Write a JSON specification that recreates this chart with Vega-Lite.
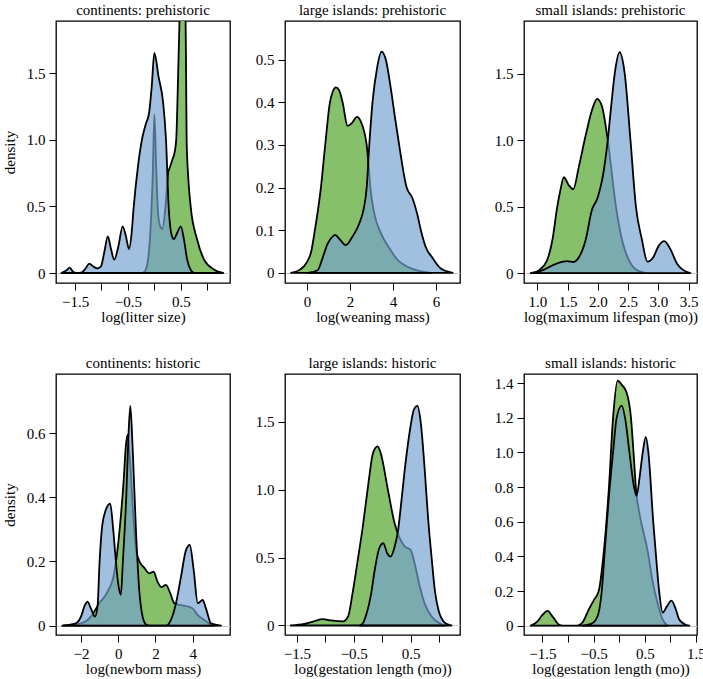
{
"$schema": "https://vega.github.io/schema/vega-lite/v6.json",
"padding": {"left": 1, "top": 2, "right": 0, "bottom": 0},
"data": {"values": [
{"p":1,"s":"g","x":-0.22,"y":0},{"p":1,"s":"g","x":-0.17,"y":0.02},{"p":1,"s":"g","x":-0.12,"y":0.1},{"p":1,"s":"g","x":-0.07,"y":0.35},{"p":1,"s":"g","x":-0.03,"y":0.75},{"p":1,"s":"g","x":0,"y":1.19},{"p":1,"s":"g","x":0.03,"y":0.85},{"p":1,"s":"g","x":0.07,"y":0.45},{"p":1,"s":"g","x":0.11,"y":0.35},{"p":1,"s":"g","x":0.15,"y":0.33},{"p":1,"s":"g","x":0.21,"y":0.5},{"p":1,"s":"g","x":0.26,"y":0.75},{"p":1,"s":"g","x":0.3,"y":0.8},{"p":1,"s":"g","x":0.34,"y":0.85},{"p":1,"s":"g","x":0.38,"y":0.9},{"p":1,"s":"g","x":0.413,"y":1.0},{"p":1,"s":"g","x":0.45,"y":1.5},{"p":1,"s":"g","x":0.476,"y":1.9},{"p":1,"s":"g","x":0.535,"y":2.4},{"p":1,"s":"g","x":0.59,"y":1.9},{"p":1,"s":"g","x":0.6,"y":1.5},{"p":1,"s":"g","x":0.61,"y":1.0},{"p":1,"s":"g","x":0.64,"y":0.72},{"p":1,"s":"g","x":0.686,"y":0.5},{"p":1,"s":"g","x":0.81,"y":0.25},{"p":1,"s":"g","x":0.94,"y":0.1},{"p":1,"s":"g","x":1.13,"y":0.025},{"p":1,"s":"g","x":1.3,"y":0},
{"p":1,"s":"b","x":-1.76,"y":0},{"p":1,"s":"b","x":-1.66,"y":0.02},{"p":1,"s":"b","x":-1.6,"y":0.04},{"p":1,"s":"b","x":-1.54,"y":0.01},{"p":1,"s":"b","x":-1.47,"y":0},{"p":1,"s":"b","x":-1.37,"y":0.005},{"p":1,"s":"b","x":-1.3,"y":0.035},{"p":1,"s":"b","x":-1.23,"y":0.07},{"p":1,"s":"b","x":-1.16,"y":0.05},{"p":1,"s":"b","x":-1.08,"y":0.035},{"p":1,"s":"b","x":-1.01,"y":0.05},{"p":1,"s":"b","x":-0.95,"y":0.15},{"p":1,"s":"b","x":-0.88,"y":0.275},{"p":1,"s":"b","x":-0.82,"y":0.18},{"p":1,"s":"b","x":-0.76,"y":0.1},{"p":1,"s":"b","x":-0.68,"y":0.2},{"p":1,"s":"b","x":-0.6,"y":0.35},{"p":1,"s":"b","x":-0.54,"y":0.28},{"p":1,"s":"b","x":-0.48,"y":0.18},{"p":1,"s":"b","x":-0.43,"y":0.3},{"p":1,"s":"b","x":-0.39,"y":0.5},{"p":1,"s":"b","x":-0.31,"y":0.8},{"p":1,"s":"b","x":-0.235,"y":1.0},{"p":1,"s":"b","x":-0.16,"y":1.12},{"p":1,"s":"b","x":-0.1,"y":1.2},{"p":1,"s":"b","x":-0.05,"y":1.4},{"p":1,"s":"b","x":0,"y":1.65},{"p":1,"s":"b","x":0.08,"y":1.47},{"p":1,"s":"b","x":0.165,"y":1.28},{"p":1,"s":"b","x":0.22,"y":1.0},{"p":1,"s":"b","x":0.27,"y":0.5},{"p":1,"s":"b","x":0.33,"y":0.28},{"p":1,"s":"b","x":0.37,"y":0.255},{"p":1,"s":"b","x":0.43,"y":0.3},{"p":1,"s":"b","x":0.5,"y":0.35},{"p":1,"s":"b","x":0.56,"y":0.25},{"p":1,"s":"b","x":0.62,"y":0.1},{"p":1,"s":"b","x":0.69,"y":0.02},{"p":1,"s":"b","x":0.75,"y":0},
{"p":2,"s":"g","x":-0.74,"y":0},{"p":2,"s":"g","x":-0.3,"y":0.008},{"p":2,"s":"g","x":0,"y":0.025},{"p":2,"s":"g","x":0.2,"y":0.05},{"p":2,"s":"g","x":0.37,"y":0.1},{"p":2,"s":"g","x":0.65,"y":0.2},{"p":2,"s":"g","x":0.85,"y":0.3},{"p":2,"s":"g","x":1.07,"y":0.4},{"p":2,"s":"g","x":1.2,"y":0.425},{"p":2,"s":"g","x":1.35,"y":0.435},{"p":2,"s":"g","x":1.5,"y":0.428},{"p":2,"s":"g","x":1.66,"y":0.4},{"p":2,"s":"g","x":1.89,"y":0.345},{"p":2,"s":"g","x":2.1,"y":0.352},{"p":2,"s":"g","x":2.33,"y":0.366},{"p":2,"s":"g","x":2.51,"y":0.355},{"p":2,"s":"g","x":2.67,"y":0.33},{"p":2,"s":"g","x":2.78,"y":0.3},{"p":2,"s":"g","x":2.87,"y":0.25},{"p":2,"s":"g","x":2.95,"y":0.2},{"p":2,"s":"g","x":3.13,"y":0.14},{"p":2,"s":"g","x":3.44,"y":0.093},{"p":2,"s":"g","x":3.83,"y":0.058},{"p":2,"s":"g","x":4.22,"y":0.03},{"p":2,"s":"g","x":4.68,"y":0.014},{"p":2,"s":"g","x":5.46,"y":0.002},{"p":2,"s":"g","x":5.77,"y":0},
{"p":2,"s":"b","x":0.03,"y":0},{"p":2,"s":"b","x":0.5,"y":0.006},{"p":2,"s":"b","x":0.73,"y":0.035},{"p":2,"s":"b","x":0.96,"y":0.068},{"p":2,"s":"b","x":1.19,"y":0.085},{"p":2,"s":"b","x":1.32,"y":0.089},{"p":2,"s":"b","x":1.5,"y":0.08},{"p":2,"s":"b","x":1.81,"y":0.065},{"p":2,"s":"b","x":2.12,"y":0.085},{"p":2,"s":"b","x":2.43,"y":0.115},{"p":2,"s":"b","x":2.64,"y":0.15},{"p":2,"s":"b","x":2.78,"y":0.2},{"p":2,"s":"b","x":2.9,"y":0.3},{"p":2,"s":"b","x":3.05,"y":0.4},{"p":2,"s":"b","x":3.26,"y":0.48},{"p":2,"s":"b","x":3.47,"y":0.519},{"p":2,"s":"b","x":3.67,"y":0.5},{"p":2,"s":"b","x":3.91,"y":0.43},{"p":2,"s":"b","x":4.11,"y":0.36},{"p":2,"s":"b","x":4.29,"y":0.3},{"p":2,"s":"b","x":4.64,"y":0.2},{"p":2,"s":"b","x":4.91,"y":0.175},{"p":2,"s":"b","x":5.12,"y":0.14},{"p":2,"s":"b","x":5.3,"y":0.1},{"p":2,"s":"b","x":5.53,"y":0.06},{"p":2,"s":"b","x":5.84,"y":0.035},{"p":2,"s":"b","x":6.23,"y":0.01},{"p":2,"s":"b","x":6.78,"y":0},
{"p":3,"s":"g","x":0.918,"y":0},{"p":3,"s":"g","x":1.027,"y":0.02},{"p":3,"s":"g","x":1.165,"y":0.1},{"p":3,"s":"g","x":1.25,"y":0.25},{"p":3,"s":"g","x":1.33,"y":0.5},{"p":3,"s":"g","x":1.38,"y":0.62},{"p":3,"s":"g","x":1.44,"y":0.72},{"p":3,"s":"g","x":1.52,"y":0.66},{"p":3,"s":"g","x":1.593,"y":0.63},{"p":3,"s":"g","x":1.687,"y":0.8},{"p":3,"s":"g","x":1.797,"y":1.03},{"p":3,"s":"g","x":1.907,"y":1.23},{"p":3,"s":"g","x":1.989,"y":1.31},{"p":3,"s":"g","x":2.071,"y":1.25},{"p":3,"s":"g","x":2.165,"y":1.0},{"p":3,"s":"g","x":2.3,"y":0.5},{"p":3,"s":"g","x":2.4,"y":0.25},{"p":3,"s":"g","x":2.51,"y":0.1},{"p":3,"s":"g","x":2.62,"y":0.03},{"p":3,"s":"g","x":2.79,"y":0},
{"p":3,"s":"b","x":0.89,"y":0},{"p":3,"s":"b","x":1.08,"y":0.02},{"p":3,"s":"b","x":1.25,"y":0.058},{"p":3,"s":"b","x":1.41,"y":0.083},{"p":3,"s":"b","x":1.49,"y":0.09},{"p":3,"s":"b","x":1.6,"y":0.083},{"p":3,"s":"b","x":1.69,"y":0.12},{"p":3,"s":"b","x":1.8,"y":0.25},{"p":3,"s":"b","x":1.9,"y":0.47},{"p":3,"s":"b","x":2.0,"y":0.57},{"p":3,"s":"b","x":2.08,"y":0.72},{"p":3,"s":"b","x":2.165,"y":1.0},{"p":3,"s":"b","x":2.22,"y":1.25},{"p":3,"s":"b","x":2.28,"y":1.5},{"p":3,"s":"b","x":2.36,"y":1.66},{"p":3,"s":"b","x":2.445,"y":1.5},{"p":3,"s":"b","x":2.54,"y":1.0},{"p":3,"s":"b","x":2.63,"y":0.5},{"p":3,"s":"b","x":2.73,"y":0.25},{"p":3,"s":"b","x":2.82,"y":0.085},{"p":3,"s":"b","x":2.92,"y":0.12},{"p":3,"s":"b","x":3.0,"y":0.2},{"p":3,"s":"b","x":3.1,"y":0.24},{"p":3,"s":"b","x":3.2,"y":0.18},{"p":3,"s":"b","x":3.31,"y":0.07},{"p":3,"s":"b","x":3.42,"y":0.02},{"p":3,"s":"b","x":3.53,"y":0},
{"p":4,"s":"g","x":-2.99,"y":0},{"p":4,"s":"g","x":-2.0,"y":0.007},{"p":4,"s":"g","x":-1.47,"y":0.028},{"p":4,"s":"g","x":-1.02,"y":0.07},{"p":4,"s":"g","x":-0.57,"y":0.106},{"p":4,"s":"g","x":-0.22,"y":0.163},{"p":4,"s":"g","x":-0.04,"y":0.236},{"p":4,"s":"g","x":0.14,"y":0.34},{"p":4,"s":"g","x":0.29,"y":0.45},{"p":4,"s":"g","x":0.41,"y":0.56},{"p":4,"s":"g","x":0.5,"y":0.595},{"p":4,"s":"g","x":0.65,"y":0.5},{"p":4,"s":"g","x":0.8,"y":0.35},{"p":4,"s":"g","x":0.95,"y":0.24},{"p":4,"s":"g","x":1.1,"y":0.205},{"p":4,"s":"g","x":1.4,"y":0.18},{"p":4,"s":"g","x":1.67,"y":0.163},{"p":4,"s":"g","x":1.9,"y":0.168},{"p":4,"s":"g","x":2.11,"y":0.137},{"p":4,"s":"g","x":2.33,"y":0.12},{"p":4,"s":"g","x":2.56,"y":0.127},{"p":4,"s":"g","x":2.8,"y":0.1},{"p":4,"s":"g","x":3.01,"y":0.07},{"p":4,"s":"g","x":3.37,"y":0.064},{"p":4,"s":"g","x":3.73,"y":0.06},{"p":4,"s":"g","x":4.0,"y":0.054},{"p":4,"s":"g","x":4.27,"y":0.033},{"p":4,"s":"g","x":4.62,"y":0.018},{"p":4,"s":"g","x":4.89,"y":0.007},{"p":4,"s":"g","x":5.16,"y":0},
{"p":4,"s":"b","x":-2.99,"y":0},{"p":4,"s":"b","x":-2.28,"y":0.007},{"p":4,"s":"b","x":-2.0,"y":0.028},{"p":4,"s":"b","x":-1.79,"y":0.064},{"p":4,"s":"b","x":-1.65,"y":0.075},{"p":4,"s":"b","x":-1.47,"y":0.054},{"p":4,"s":"b","x":-1.25,"y":0.028},{"p":4,"s":"b","x":-1.11,"y":0.06},{"p":4,"s":"b","x":-1.0,"y":0.2},{"p":4,"s":"b","x":-0.88,"y":0.3},{"p":4,"s":"b","x":-0.7,"y":0.355},{"p":4,"s":"b","x":-0.43,"y":0.38},{"p":4,"s":"b","x":-0.27,"y":0.3},{"p":4,"s":"b","x":-0.125,"y":0.2},{"p":4,"s":"b","x":0.0,"y":0.13},{"p":4,"s":"b","x":0.14,"y":0.096},{"p":4,"s":"b","x":0.25,"y":0.2},{"p":4,"s":"b","x":0.43,"y":0.4},{"p":4,"s":"b","x":0.556,"y":0.6},{"p":4,"s":"b","x":0.65,"y":0.685},{"p":4,"s":"b","x":0.77,"y":0.56},{"p":4,"s":"b","x":0.95,"y":0.3},{"p":4,"s":"b","x":1.13,"y":0.11},{"p":4,"s":"b","x":1.31,"y":0.028},{"p":4,"s":"b","x":1.49,"y":0.004},{"p":4,"s":"b","x":1.67,"y":0},{"p":4,"s":"b","x":2.56,"y":0},{"p":4,"s":"b","x":2.83,"y":0.018},{"p":4,"s":"b","x":3.1,"y":0.07},{"p":4,"s":"b","x":3.37,"y":0.153},{"p":4,"s":"b","x":3.64,"y":0.236},{"p":4,"s":"b","x":3.84,"y":0.252},{"p":4,"s":"b","x":4.05,"y":0.174},{"p":4,"s":"b","x":4.27,"y":0.07},{"p":4,"s":"b","x":4.53,"y":0.08},{"p":4,"s":"b","x":4.71,"y":0.054},{"p":4,"s":"b","x":4.98,"y":0.007},{"p":4,"s":"b","x":5.52,"y":0},
{"p":5,"s":"g","x":-1.61,"y":0},{"p":5,"s":"g","x":-1.37,"y":0.012},{"p":5,"s":"g","x":-1.2,"y":0.03},{"p":5,"s":"g","x":-1.05,"y":0.047},{"p":5,"s":"g","x":-0.9,"y":0.037},{"p":5,"s":"g","x":-0.69,"y":0.03},{"p":5,"s":"g","x":-0.6,"y":0.066},{"p":5,"s":"g","x":-0.52,"y":0.24},{"p":5,"s":"g","x":-0.43,"y":0.48},{"p":5,"s":"g","x":-0.34,"y":0.73},{"p":5,"s":"g","x":-0.25,"y":1.02},{"p":5,"s":"g","x":-0.16,"y":1.27},{"p":5,"s":"g","x":-0.08,"y":1.318},{"p":5,"s":"g","x":-0.02,"y":1.26},{"p":5,"s":"g","x":0.1,"y":1.0},{"p":5,"s":"g","x":0.22,"y":0.75},{"p":5,"s":"g","x":0.31,"y":0.64},{"p":5,"s":"g","x":0.4,"y":0.58},{"p":5,"s":"g","x":0.5,"y":0.556},{"p":5,"s":"g","x":0.57,"y":0.46},{"p":5,"s":"g","x":0.66,"y":0.29},{"p":5,"s":"g","x":0.75,"y":0.16},{"p":5,"s":"g","x":0.87,"y":0.066},{"p":5,"s":"g","x":0.99,"y":0.022},{"p":5,"s":"g","x":1.1,"y":0},
{"p":5,"s":"b","x":-0.4,"y":0},{"p":5,"s":"b","x":-0.34,"y":0.017},{"p":5,"s":"b","x":-0.28,"y":0.08},{"p":5,"s":"b","x":-0.2,"y":0.22},{"p":5,"s":"b","x":-0.13,"y":0.41},{"p":5,"s":"b","x":-0.05,"y":0.57},{"p":5,"s":"b","x":0.02,"y":0.605},{"p":5,"s":"b","x":0.09,"y":0.53},{"p":5,"s":"b","x":0.15,"y":0.507},{"p":5,"s":"b","x":0.22,"y":0.58},{"p":5,"s":"b","x":0.28,"y":0.7},{"p":5,"s":"b","x":0.34,"y":0.92},{"p":5,"s":"b","x":0.41,"y":1.19},{"p":5,"s":"b","x":0.49,"y":1.44},{"p":5,"s":"b","x":0.56,"y":1.59},{"p":5,"s":"b","x":0.62,"y":1.615},{"p":5,"s":"b","x":0.68,"y":1.49},{"p":5,"s":"b","x":0.75,"y":1.14},{"p":5,"s":"b","x":0.81,"y":0.78},{"p":5,"s":"b","x":0.87,"y":0.5},{"p":5,"s":"b","x":0.93,"y":0.25},{"p":5,"s":"b","x":1.0,"y":0.1},{"p":5,"s":"b","x":1.07,"y":0.035},{"p":5,"s":"b","x":1.13,"y":0.012},{"p":5,"s":"b","x":1.22,"y":0},
{"p":6,"s":"g","x":-1.73,"y":0},{"p":6,"s":"g","x":-1.6,"y":0.023},{"p":6,"s":"g","x":-1.5,"y":0.062},{"p":6,"s":"g","x":-1.4,"y":0.085},{"p":6,"s":"g","x":-1.3,"y":0.052},{"p":6,"s":"g","x":-1.17,"y":0.004},{"p":6,"s":"g","x":-1.1,"y":0},{"p":6,"s":"g","x":-0.82,"y":0},{"p":6,"s":"g","x":-0.72,"y":0.017},{"p":6,"s":"g","x":-0.6,"y":0.09},{"p":6,"s":"g","x":-0.49,"y":0.15},{"p":6,"s":"g","x":-0.4,"y":0.2},{"p":6,"s":"g","x":-0.31,"y":0.4},{"p":6,"s":"g","x":-0.2,"y":0.8},{"p":6,"s":"g","x":-0.12,"y":1.2},{"p":6,"s":"g","x":-0.03,"y":1.415},{"p":6,"s":"g","x":0.05,"y":1.39},{"p":6,"s":"g","x":0.14,"y":1.35},{"p":6,"s":"g","x":0.23,"y":1.2},{"p":6,"s":"g","x":0.28,"y":1.0},{"p":6,"s":"g","x":0.33,"y":0.78},{"p":6,"s":"g","x":0.4,"y":0.64},{"p":6,"s":"g","x":0.49,"y":0.52},{"p":6,"s":"g","x":0.55,"y":0.44},{"p":6,"s":"g","x":0.65,"y":0.26},{"p":6,"s":"g","x":0.75,"y":0.13},{"p":6,"s":"g","x":0.85,"y":0.035},{"p":6,"s":"g","x":0.95,"y":0},
{"p":6,"s":"b","x":-0.72,"y":0},{"p":6,"s":"b","x":-0.55,"y":0.01},{"p":6,"s":"b","x":-0.46,"y":0.033},{"p":6,"s":"b","x":-0.39,"y":0.09},{"p":6,"s":"b","x":-0.34,"y":0.2},{"p":6,"s":"b","x":-0.29,"y":0.4},{"p":6,"s":"b","x":-0.2,"y":0.75},{"p":6,"s":"b","x":-0.12,"y":1.0},{"p":6,"s":"b","x":-0.05,"y":1.2},{"p":6,"s":"b","x":0.05,"y":1.27},{"p":6,"s":"b","x":0.12,"y":1.19},{"p":6,"s":"b","x":0.2,"y":1.0},{"p":6,"s":"b","x":0.29,"y":0.8},{"p":6,"s":"b","x":0.34,"y":0.75},{"p":6,"s":"b","x":0.4,"y":0.86},{"p":6,"s":"b","x":0.46,"y":1.0},{"p":6,"s":"b","x":0.52,"y":1.09},{"p":6,"s":"b","x":0.57,"y":1.0},{"p":6,"s":"b","x":0.665,"y":0.6},{"p":6,"s":"b","x":0.72,"y":0.4},{"p":6,"s":"b","x":0.78,"y":0.2},{"p":6,"s":"b","x":0.85,"y":0.075},{"p":6,"s":"b","x":0.93,"y":0.11},{"p":6,"s":"b","x":1.02,"y":0.144},{"p":6,"s":"b","x":1.1,"y":0.1},{"p":6,"s":"b","x":1.17,"y":0.037},{"p":6,"s":"b","x":1.27,"y":0.01},{"p":6,"s":"b","x":1.37,"y":0}
]},
"columns": 3,
"align": "each",
"bounds": "full",
"spacing": {"row": 29, "column": 21},
"concat": [
{"width": 174, "height": 262, "title": "continents: prehistoric",
 "transform": [{"filter": "datum.p == 1"}],
 "encoding": {
  "x": {"field": "x", "type": "quantitative", "title": "log(litter size)", "scale": {"domain": [-1.86, 1.43], "nice": false, "zero": false}, "axis": {"values": [-1.5, -1, -0.5, 0, 0.5, 1], "labelExpr": "abs(datum.value*2) % 2 == 1 ? format(datum.value, '.1f') : ''"}},
  "y": {"field": "y", "type": "quantitative", "title": "density", "scale": {"domain": [-0.075, 1.89], "nice": false, "zero": false}, "axis": {"values": [0, 0.5, 1, 1.5], "minExtent": 32, "labelExpr": "datum.value == 0 ? '0' : format(datum.value, '.1f')", "grid": true, "gridColor": "#c8c8c8", "gridOpacity": {"condition": {"test": "datum.value === 0", "value": 1}, "value": 0}}}
 },
 "layer": [
  {"transform": [{"filter": "datum.s == 'g'"}], "mark": {"type": "area", "interpolate": "monotone", "clip": true, "fill": "#87c06b", "fillOpacity": 1, "stroke": "#000", "strokeWidth": 1.8, "strokeJoin": "round"}},
  {"transform": [{"filter": "datum.s == 'b'"}], "mark": {"type": "area", "interpolate": "monotone", "clip": true, "fill": "#75a0cf", "fillOpacity": 0.68, "stroke": "#000", "strokeWidth": 1.8, "strokeJoin": "round"}}
 ]},
{"width": 175, "height": 262, "title": "large islands: prehistoric",
 "transform": [{"filter": "datum.p == 2"}],
 "encoding": {
  "x": {"field": "x", "type": "quantitative", "title": "log(weaning mass)", "scale": {"domain": [-1.02, 7.12], "nice": false, "zero": false}, "axis": {"values": [0, 2, 4, 6], "format": "d"}},
  "y": {"field": "y", "type": "quantitative", "title": null, "scale": {"domain": [-0.024, 0.591], "nice": false, "zero": false}, "axis": {"values": [0, 0.1, 0.2, 0.3, 0.4, 0.5], "minExtent": 32, "labelExpr": "datum.value == 0 ? '0' : format(datum.value, '.1f')", "grid": true, "gridColor": "#c8c8c8", "gridOpacity": {"condition": {"test": "datum.value === 0", "value": 1}, "value": 0}}}
 },
 "layer": [
  {"transform": [{"filter": "datum.s == 'g'"}], "mark": {"type": "area", "interpolate": "monotone", "clip": true, "fill": "#87c06b", "fillOpacity": 1, "stroke": "#000", "strokeWidth": 1.8, "strokeJoin": "round"}},
  {"transform": [{"filter": "datum.s == 'b'"}], "mark": {"type": "area", "interpolate": "monotone", "clip": true, "fill": "#75a0cf", "fillOpacity": 0.68, "stroke": "#000", "strokeWidth": 1.8, "strokeJoin": "round"}}
 ]},
{"width": 173, "height": 262, "title": "small islands: prehistoric",
 "transform": [{"filter": "datum.p == 3"}],
 "encoding": {
  "x": {"field": "x", "type": "quantitative", "title": "log(maximum lifespan (mo))", "scale": {"domain": [0.78, 3.64], "nice": false, "zero": false}, "axis": {"values": [1, 1.5, 2, 2.5, 3, 3.5], "format": ".1f"}},
  "y": {"field": "y", "type": "quantitative", "title": null, "scale": {"domain": [-0.075, 1.895], "nice": false, "zero": false}, "axis": {"values": [0, 0.5, 1, 1.5], "minExtent": 40.5, "labelExpr": "datum.value == 0 ? '0' : format(datum.value, '.1f')", "grid": true, "gridColor": "#c8c8c8", "gridOpacity": {"condition": {"test": "datum.value === 0", "value": 1}, "value": 0}}}
 },
 "layer": [
  {"transform": [{"filter": "datum.s == 'g'"}], "mark": {"type": "area", "interpolate": "monotone", "clip": true, "fill": "#87c06b", "fillOpacity": 1, "stroke": "#000", "strokeWidth": 1.8, "strokeJoin": "round"}},
  {"transform": [{"filter": "datum.s == 'b'"}], "mark": {"type": "area", "interpolate": "monotone", "clip": true, "fill": "#75a0cf", "fillOpacity": 0.68, "stroke": "#000", "strokeWidth": 1.8, "strokeJoin": "round"}}
 ]},
{"width": 174, "height": 261, "title": "continents: historic",
 "transform": [{"filter": "datum.p == 4"}],
 "encoding": {
  "x": {"field": "x", "type": "quantitative", "title": "log(newborn mass)", "scale": {"domain": [-3.34, 6.0], "nice": false, "zero": false}, "axis": {"values": [-2, 0, 2, 4], "format": "d"}},
  "y": {"field": "y", "type": "quantitative", "title": "density", "scale": {"domain": [-0.029, 0.784], "nice": false, "zero": false}, "axis": {"values": [0, 0.2, 0.4, 0.6], "minExtent": 32, "labelExpr": "datum.value == 0 ? '0' : format(datum.value, '.1f')", "grid": true, "gridColor": "#c8c8c8", "gridOpacity": {"condition": {"test": "datum.value === 0", "value": 1}, "value": 0}}}
 },
 "layer": [
  {"transform": [{"filter": "datum.s == 'g'"}], "mark": {"type": "area", "interpolate": "monotone", "clip": true, "fill": "#87c06b", "fillOpacity": 1, "stroke": "#000", "strokeWidth": 1.8, "strokeJoin": "round"}},
  {"transform": [{"filter": "datum.s == 'b'"}], "mark": {"type": "area", "interpolate": "monotone", "clip": true, "fill": "#75a0cf", "fillOpacity": 0.68, "stroke": "#000", "strokeWidth": 1.8, "strokeJoin": "round"}}
 ]},
{"width": 175, "height": 261, "title": "large islands: historic",
 "transform": [{"filter": "datum.p == 5"}],
 "encoding": {
  "x": {"field": "x", "type": "quantitative", "title": "log(gestation length (mo))", "scale": {"domain": [-1.71, 1.37], "nice": false, "zero": false}, "axis": {"values": [-1.5, -1, -0.5, 0, 0.5, 1], "labelExpr": "abs(datum.value*2) % 2 == 1 ? format(datum.value, '.1f') : ''"}},
  "y": {"field": "y", "type": "quantitative", "title": null, "scale": {"domain": [-0.07, 1.85], "nice": false, "zero": false}, "axis": {"values": [0, 0.5, 1, 1.5], "minExtent": 32, "labelExpr": "datum.value == 0 ? '0' : format(datum.value, '.1f')", "grid": true, "gridColor": "#c8c8c8", "gridOpacity": {"condition": {"test": "datum.value === 0", "value": 1}, "value": 0}}}
 },
 "layer": [
  {"transform": [{"filter": "datum.s == 'g'"}], "mark": {"type": "area", "interpolate": "monotone", "clip": true, "fill": "#87c06b", "fillOpacity": 1, "stroke": "#000", "strokeWidth": 1.8, "strokeJoin": "round"}},
  {"transform": [{"filter": "datum.s == 'b'"}], "mark": {"type": "area", "interpolate": "monotone", "clip": true, "fill": "#75a0cf", "fillOpacity": 0.68, "stroke": "#000", "strokeWidth": 1.8, "strokeJoin": "round"}}
 ]},
{"width": 173, "height": 261, "title": "small islands: historic",
 "transform": [{"filter": "datum.p == 6"}],
 "encoding": {
  "x": {"field": "x", "type": "quantitative", "title": "log(gestation length (mo))", "scale": {"domain": [-1.86, 1.52], "nice": false, "zero": false}, "axis": {"values": [-1.5, -1, -0.5, 0, 0.5, 1, 1.5], "labelExpr": "abs(datum.value*2) % 2 == 1 ? format(datum.value, '.1f') : ''"}},
  "y": {"field": "y", "type": "quantitative", "title": null, "scale": {"domain": [-0.054, 1.453], "nice": false, "zero": false}, "axis": {"values": [0, 0.2, 0.4, 0.6, 0.8, 1, 1.2, 1.4], "minExtent": 40.5, "labelExpr": "datum.value == 0 ? '0' : format(datum.value, '.1f')", "grid": true, "gridColor": "#c8c8c8", "gridOpacity": {"condition": {"test": "datum.value === 0", "value": 1}, "value": 0}}}
 },
 "layer": [
  {"transform": [{"filter": "datum.s == 'g'"}], "mark": {"type": "area", "interpolate": "monotone", "clip": true, "fill": "#87c06b", "fillOpacity": 1, "stroke": "#000", "strokeWidth": 1.8, "strokeJoin": "round"}},
  {"transform": [{"filter": "datum.s == 'b'"}], "mark": {"type": "area", "interpolate": "monotone", "clip": true, "fill": "#75a0cf", "fillOpacity": 0.68, "stroke": "#000", "strokeWidth": 1.8, "strokeJoin": "round"}}
 ]}
],
"config": {
 "font": "Liberation Serif",
 "background": "#ffffff",
 "view": {"stroke": "#000", "strokeWidth": 1.3},
 "axis": {"domain": false, "grid": false, "ticks": true, "tickColor": "#000", "tickWidth": 1, "tickSize": 7, "labelFont": "Liberation Serif", "labelFontSize": 15, "labelColor": "#000", "titleFont": "Liberation Serif", "titleFontSize": 15, "titleFontWeight": "normal", "titleColor": "#000", "labelOverlap": false, "labelFlush": false},
 "axisY": {"labelPadding": 4, "titlePadding": 6.5},
 "axisX": {"labelPadding": 4.5, "titlePadding": 0},
 "title": {"font": "Liberation Serif", "fontSize": 15, "fontWeight": "normal", "color": "#000", "offset": 3, "baseline": "alphabetic", "frame": "group"}
}
}
